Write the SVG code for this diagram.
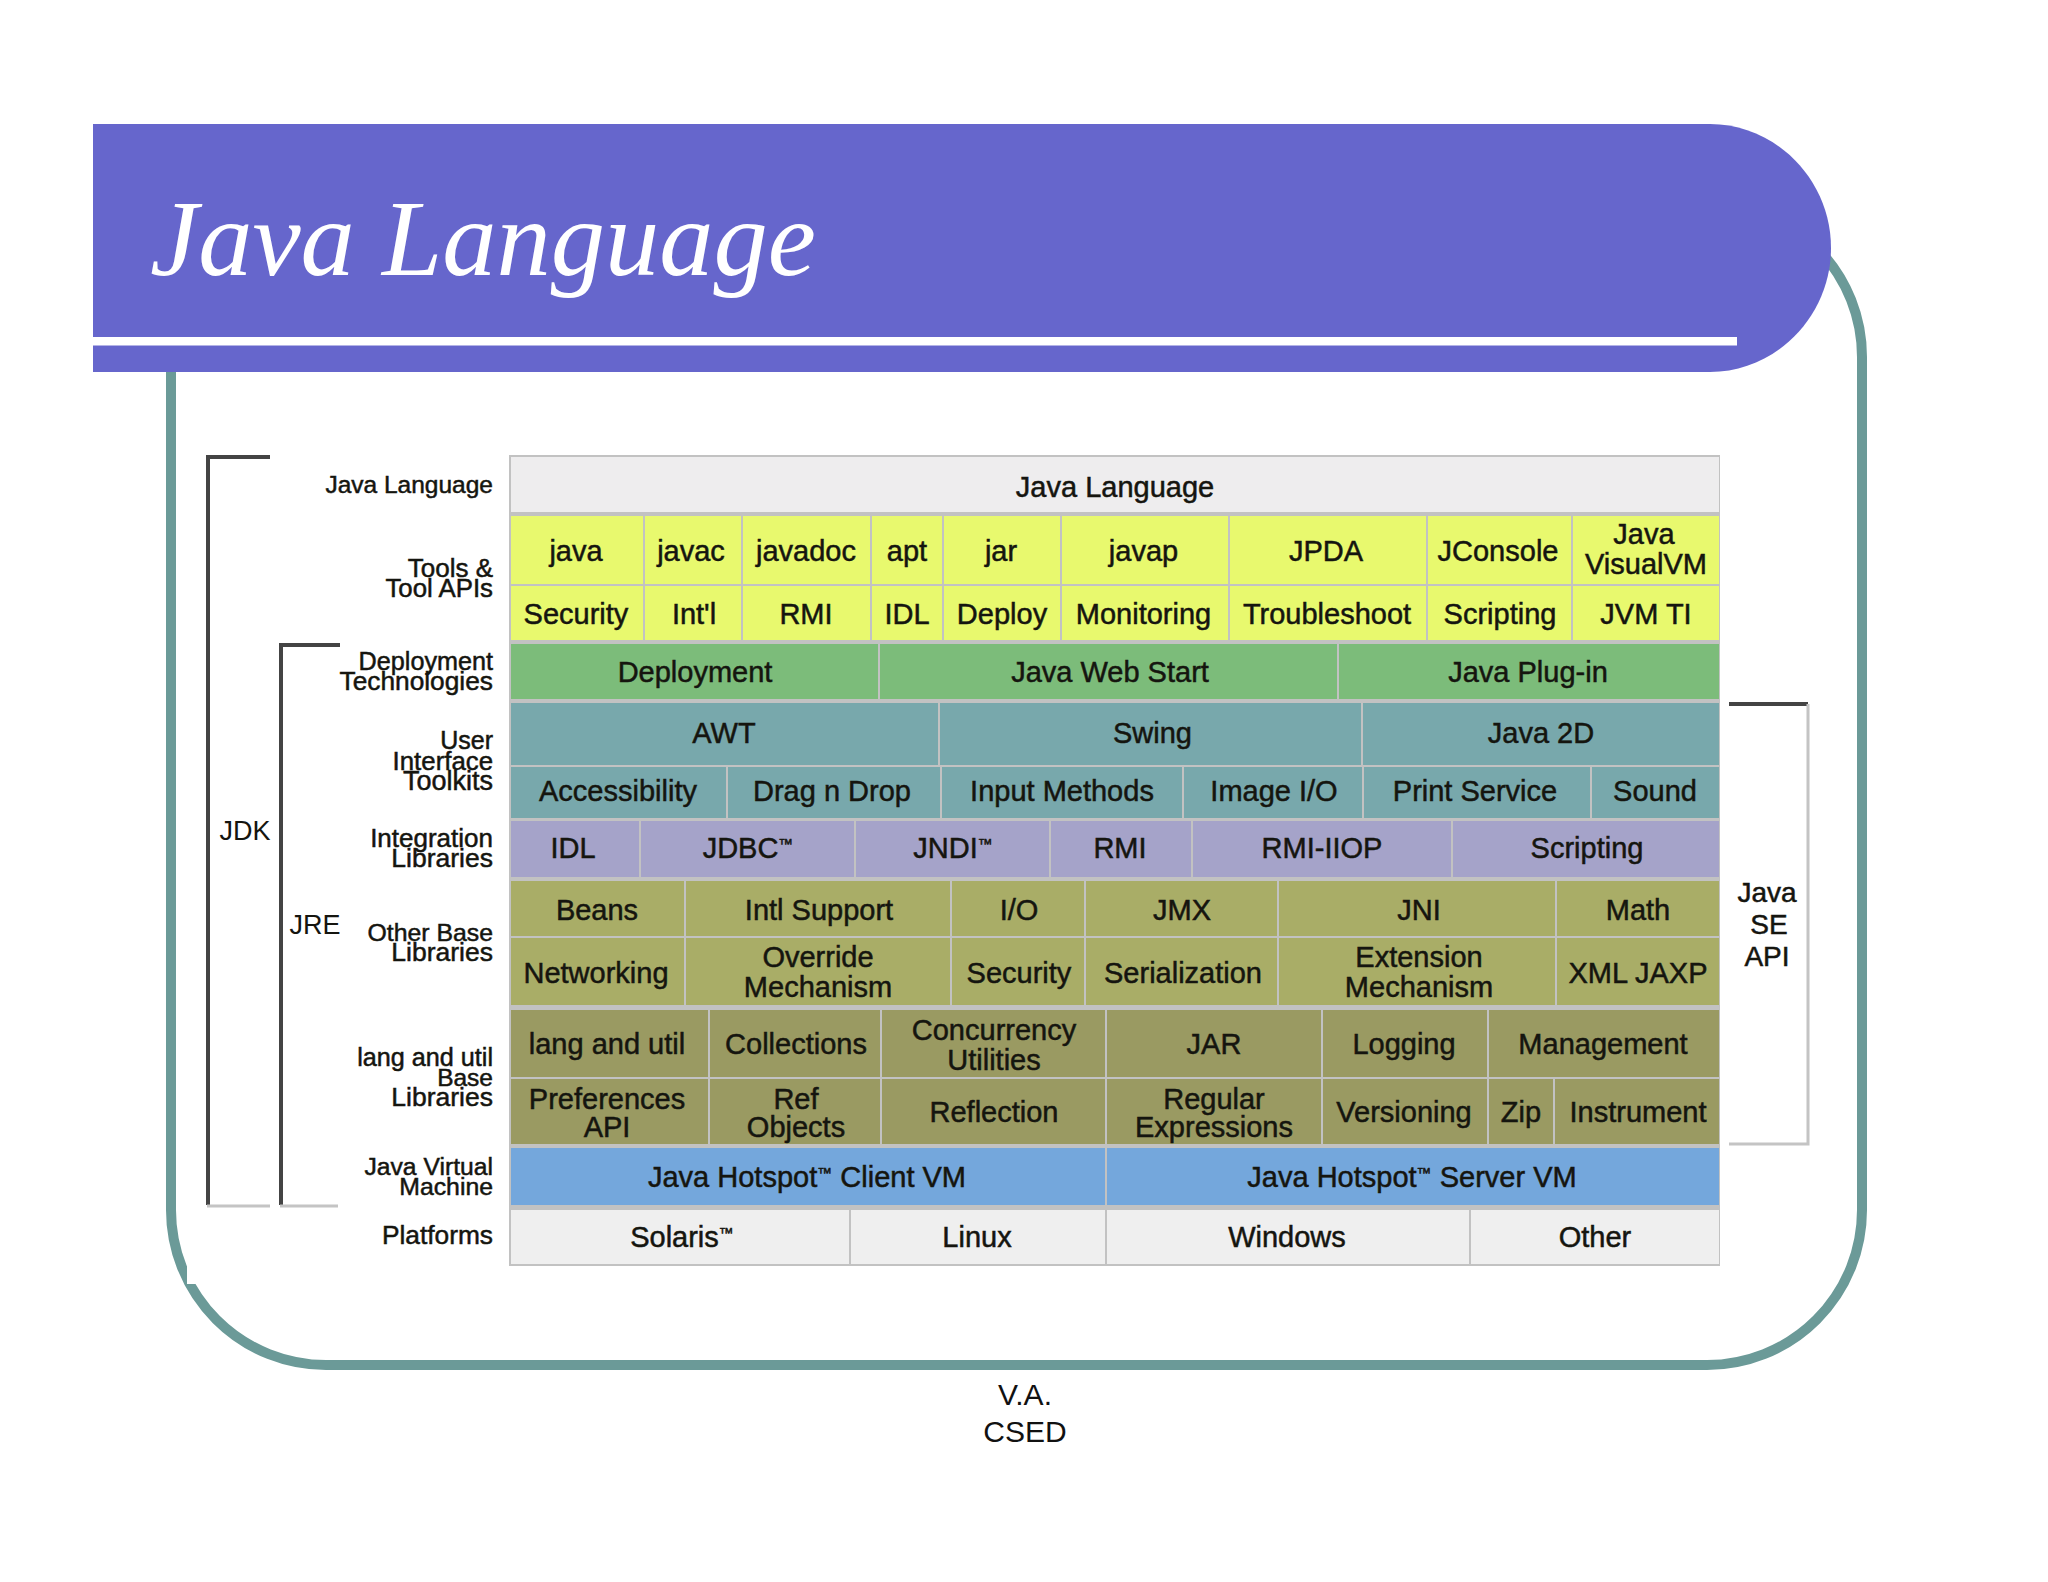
<svg xmlns="http://www.w3.org/2000/svg" width="2048" height="1582" viewBox="0 0 2048 1582">
<style>
text{font-family:"Liberation Sans",Arial,sans-serif;fill:#15150f}
.c{font-size:29px;text-anchor:middle;stroke:#15150f;stroke-width:.5px}
.l{text-anchor:end;stroke:#15150f;stroke-width:.5px}
.b{font-size:27px;text-anchor:middle}
.tm{font-size:15px}
.a{fill:#eeedee}.y{fill:#e8f96e}.g{fill:#7cbc7a}.t{fill:#78a8ac}.p{fill:#a5a3c9}.o{fill:#a9ad67}.d{fill:#9a9a62}.u{fill:#74a7dc}.w{fill:#efefef}
.dk{fill:none;stroke:#444;stroke-width:4}
.lt{fill:none;stroke:#c4c4c4;stroke-width:3}
</style>
<rect width="2048" height="1582" fill="#fff"/>
<g id="frame">
<rect x="171" y="202" width="1691" height="1163" rx="155" ry="155" fill="none" stroke="#6b9a98" stroke-width="10"/>
<rect x="187" y="380" width="1648" height="904" fill="#fff"/>
</g>
<g id="banner">
<path d="M93 124H1710C1776 124 1831 180 1831 248C1831 316 1776 372 1710 372H93Z" fill="#6666cc"/>
<rect x="93" y="337" width="1644" height="8.500" fill="#fff"/>
<text x="150" y="275" style="font-family:'Liberation Serif','Times New Roman',serif;font-style:italic;font-size:108.500px;fill:#fff">Java Language</text>
</g>
<rect id="table-bg" x="509" y="455" width="1211" height="811" fill="#c2c2c2"/>
<g id="connectors">
<path class="dk" d="M270 457H208V1205"/>
<path class="lt" d="M207 1206H270"/>
<path class="dk" d="M340 645H281V1205"/>
<path class="lt" d="M280 1206H338"/>
<path class="dk" d="M1729 704H1808"/>
<path class="lt" d="M1808 704V1144H1729"/>
</g>
<g id="side-labels">
<text class="l" x="493" y="493" font-size="24.500">Java Language</text>
<text class="l" x="493" y="577" font-size="26">Tools &amp;</text><text class="l" x="493" y="597" font-size="25.800">Tool APIs</text>
<text class="l" x="493" y="670" font-size="25.200">Deployment</text><text class="l" x="493" y="690" font-size="26.300">Technologies</text>
<text class="l" x="493" y="749" font-size="25">User</text><text class="l" x="493" y="770" font-size="25.800">Interface</text><text class="l" x="493" y="790" font-size="27">Toolkits</text>
<text class="l" x="493" y="847" font-size="26">Integration</text><text class="l" x="493" y="867" font-size="26.500">Libraries</text>
<text class="l" x="493" y="941" font-size="24.800">Other Base</text><text class="l" x="493" y="961" font-size="26.500">Libraries</text>
<text class="l" x="493" y="1066" font-size="25.200">lang and util</text><text class="l" x="493" y="1086" font-size="24.500">Base</text><text class="l" x="493" y="1106" font-size="26.500">Libraries</text>
<text class="l" x="493" y="1175" font-size="24.700">Java Virtual</text><text class="l" x="493" y="1195" font-size="24.800">Machine</text>
<text class="l" x="493" y="1244" font-size="26.300">Platforms</text>
<text class="b" x="245" y="840">JDK</text>
<text class="b" x="315" y="934">JRE</text>
<text class="c" x="1767" y="902" style="font-size:28px">Java</text>
<text class="c" x="1769" y="934" style="font-size:28px">SE</text>
<text class="c" x="1767" y="966" style="font-size:28px">API</text>
</g>
<g id="row-language"><g id="n-java-language"><rect class="a" x="511" y="457" width="1208" height="55"/><text class="c" x="1115" y="497">Java Language</text></g></g>
<g id="row-tools">
<g id="n-java"><rect class="y" x="511" y="516" width="132" height="68"/><text class="c" x="576" y="561">java</text></g>
<g id="n-javac"><rect class="y" x="645" y="516" width="96" height="68"/><text class="c" x="691" y="561">javac</text></g>
<g id="n-javadoc"><rect class="y" x="743" y="516" width="127" height="68"/><text class="c" x="806" y="561">javadoc</text></g>
<g id="n-apt"><rect class="y" x="872" y="516" width="70" height="68"/><text class="c" x="907" y="561">apt</text></g>
<g id="n-jar"><rect class="y" x="944" y="516" width="116" height="68"/><text class="c" x="1001" y="561">jar</text></g>
<g id="n-javap"><rect class="y" x="1062" y="516" width="166" height="68"/><text class="c" x="1143.500" y="561">javap</text></g>
<g id="n-jpda"><rect class="y" x="1230" y="516" width="196" height="68"/><text class="c" x="1326" y="561">JPDA</text></g>
<g id="n-jconsole"><rect class="y" x="1428" y="516" width="143" height="68"/><text class="c" x="1498" y="561">JConsole</text></g>
<g id="n-visualvm"><rect class="y" x="1573" y="516" width="146" height="68"/><text class="c" x="1644" y="544">Java</text><text class="c" x="1646" y="574">VisualVM</text></g>
<g id="n-security1"><rect class="y" x="511" y="586" width="132" height="54"/><text class="c" x="576" y="624">Security</text></g>
<g id="n-intl"><rect class="y" x="645" y="586" width="96" height="54"/><text class="c" x="694" y="624">Int'l</text></g>
<g id="n-rmi1"><rect class="y" x="743" y="586" width="127" height="54"/><text class="c" x="806" y="624">RMI</text></g>
<g id="n-idl1"><rect class="y" x="872" y="586" width="70" height="54"/><text class="c" x="907" y="624">IDL</text></g>
<g id="n-deploy"><rect class="y" x="944" y="586" width="116" height="54"/><text class="c" x="1002" y="624">Deploy</text></g>
<g id="n-monitoring"><rect class="y" x="1062" y="586" width="166" height="54"/><text class="c" x="1143.500" y="624">Monitoring</text></g>
<g id="n-troubleshoot"><rect class="y" x="1230" y="586" width="196" height="54"/><text class="c" x="1327" y="624">Troubleshoot</text></g>
<g id="n-scripting1"><rect class="y" x="1428" y="586" width="143" height="54"/><text class="c" x="1500" y="624">Scripting</text></g>
<g id="n-jvmti"><rect class="y" x="1573" y="586" width="146" height="54"/><text class="c" x="1646" y="624">JVM TI</text></g>
</g>
<g id="row-deployment">
<g id="n-deployment"><rect class="g" x="511" y="644" width="367" height="55"/><text class="c" x="695" y="682">Deployment</text></g>
<g id="n-webstart"><rect class="g" x="880" y="644" width="457" height="55"/><text class="c" x="1110" y="682">Java Web Start</text></g>
<g id="n-plugin"><rect class="g" x="1339" y="644" width="380" height="55"/><text class="c" x="1528" y="682">Java Plug-in</text></g>
</g>
<g id="row-ui">
<g id="n-awt"><rect class="t" x="511" y="703" width="427" height="62"/><text class="c" x="724" y="743">AWT</text></g>
<g id="n-swing"><rect class="t" x="940" y="703" width="421" height="62"/><text class="c" x="1152.500" y="743">Swing</text></g>
<g id="n-java2d"><rect class="t" x="1363" y="703" width="356" height="62"/><text class="c" x="1541" y="743">Java 2D</text></g>
<g id="n-accessibility"><rect class="t" x="511" y="767" width="215" height="51"/><text class="c" x="618" y="801">Accessibility</text></g>
<g id="n-dragdrop"><rect class="t" x="728" y="767" width="212" height="51"/><text class="c" x="832" y="801">Drag n Drop</text></g>
<g id="n-inputmethods"><rect class="t" x="942" y="767" width="240" height="51"/><text class="c" x="1062" y="801">Input Methods</text></g>
<g id="n-imageio"><rect class="t" x="1184" y="767" width="178" height="51"/><text class="c" x="1274" y="801">Image I/O</text></g>
<g id="n-printservice"><rect class="t" x="1364" y="767" width="226" height="51"/><text class="c" x="1475" y="801">Print Service</text></g>
<g id="n-sound"><rect class="t" x="1592" y="767" width="127" height="51"/><text class="c" x="1655" y="801">Sound</text></g>
</g>
<g id="row-integration">
<g id="n-idl2"><rect class="p" x="511" y="821" width="128" height="56"/><text class="c" x="573" y="858">IDL</text></g>
<g id="n-jdbc"><rect class="p" x="641" y="821" width="213" height="56"/><text class="c" x="748" y="858">JDBC<tspan class="tm" dy="-9">™</tspan></text></g>
<g id="n-jndi"><rect class="p" x="856" y="821" width="193" height="56"/><text class="c" x="953" y="858">JNDI<tspan class="tm" dy="-9">™</tspan></text></g>
<g id="n-rmi2"><rect class="p" x="1051" y="821" width="140" height="56"/><text class="c" x="1120" y="858">RMI</text></g>
<g id="n-rmiiiop"><rect class="p" x="1193" y="821" width="258" height="56"/><text class="c" x="1322" y="858">RMI-IIOP</text></g>
<g id="n-scripting2"><rect class="p" x="1453" y="821" width="266" height="56"/><text class="c" x="1587" y="858">Scripting</text></g>
</g>
<g id="row-other-base">
<g id="n-beans"><rect class="o" x="511" y="881" width="173" height="55"/><text class="c" x="597" y="920">Beans</text></g>
<g id="n-intlsupport"><rect class="o" x="686" y="881" width="264" height="55"/><text class="c" x="819" y="920">Intl Support</text></g>
<g id="n-io"><rect class="o" x="952" y="881" width="132" height="55"/><text class="c" x="1019" y="920">I/O</text></g>
<g id="n-jmx"><rect class="o" x="1086" y="881" width="191" height="55"/><text class="c" x="1182" y="920">JMX</text></g>
<g id="n-jni"><rect class="o" x="1279" y="881" width="276" height="55"/><text class="c" x="1419" y="920">JNI</text></g>
<g id="n-math"><rect class="o" x="1557" y="881" width="162" height="55"/><text class="c" x="1638" y="920">Math</text></g>
<g id="n-networking"><rect class="o" x="511" y="938" width="173" height="67"/><text class="c" x="596" y="983">Networking</text></g>
<g id="n-override"><rect class="o" x="686" y="938" width="264" height="67"/><text class="c" x="818" y="967">Override</text><text class="c" x="818" y="997">Mechanism</text></g>
<g id="n-security2"><rect class="o" x="952" y="938" width="132" height="67"/><text class="c" x="1019" y="983">Security</text></g>
<g id="n-serialization"><rect class="o" x="1086" y="938" width="191" height="67"/><text class="c" x="1183" y="983">Serialization</text></g>
<g id="n-extension"><rect class="o" x="1279" y="938" width="276" height="67"/><text class="c" x="1419" y="967">Extension</text><text class="c" x="1419" y="997">Mechanism</text></g>
<g id="n-xml"><rect class="o" x="1557" y="938" width="162" height="67"/><text class="c" x="1638" y="983">XML JAXP</text></g>
</g>
<g id="row-lang-util">
<g id="n-langutil"><rect class="d" x="511" y="1010" width="197" height="67"/><text class="c" x="607" y="1054">lang and util</text></g>
<g id="n-collections"><rect class="d" x="710" y="1010" width="170" height="67"/><text class="c" x="796" y="1054">Collections</text></g>
<g id="n-concurrency"><rect class="d" x="882" y="1010" width="223" height="67"/><text class="c" x="994" y="1040">Concurrency</text><text class="c" x="994" y="1070">Utilities</text></g>
<g id="n-jar2"><rect class="d" x="1107" y="1010" width="214" height="67"/><text class="c" x="1214" y="1054">JAR</text></g>
<g id="n-logging"><rect class="d" x="1323" y="1010" width="164" height="67"/><text class="c" x="1404" y="1054">Logging</text></g>
<g id="n-management"><rect class="d" x="1489" y="1010" width="230" height="67"/><text class="c" x="1603" y="1054">Management</text></g>
<g id="n-preferences"><rect class="d" x="511" y="1079" width="197" height="65"/><text class="c" x="607" y="1109">Preferences</text><text class="c" x="607" y="1137">API</text></g>
<g id="n-refobjects"><rect class="d" x="710" y="1079" width="170" height="65"/><text class="c" x="796" y="1109">Ref</text><text class="c" x="796" y="1137">Objects</text></g>
<g id="n-reflection"><rect class="d" x="882" y="1079" width="223" height="65"/><text class="c" x="994" y="1122">Reflection</text></g>
<g id="n-regex"><rect class="d" x="1107" y="1079" width="214" height="65"/><text class="c" x="1214" y="1109">Regular</text><text class="c" x="1214" y="1137">Expressions</text></g>
<g id="n-versioning"><rect class="d" x="1323" y="1079" width="164" height="65"/><text class="c" x="1404" y="1122">Versioning</text></g>
<g id="n-zip"><rect class="d" x="1489" y="1079" width="64" height="65"/><text class="c" x="1521" y="1122">Zip</text></g>
<g id="n-instrument"><rect class="d" x="1555" y="1079" width="164" height="65"/><text class="c" x="1638" y="1122">Instrument</text></g>
</g>
<g id="row-vm">
<g id="n-clientvm"><rect class="u" x="511" y="1148" width="594" height="57"/><text class="c" x="807" y="1187">Java Hotspot<tspan class="tm" dy="-9">™</tspan><tspan dy="9"> Client VM</tspan></text></g>
<g id="n-servervm"><rect class="u" x="1107" y="1148" width="612" height="57"/><text class="c" x="1412" y="1187">Java Hotspot<tspan class="tm" dy="-9">™</tspan><tspan dy="9"> Server VM</tspan></text></g>
</g>
<g id="row-platforms">
<g id="n-solaris"><rect class="w" x="511" y="1210" width="338" height="54"/><text class="c" x="682" y="1247">Solaris<tspan class="tm" dy="-9">™</tspan></text></g>
<g id="n-linux"><rect class="w" x="851" y="1210" width="254" height="54"/><text class="c" x="977" y="1247">Linux</text></g>
<g id="n-windows"><rect class="w" x="1107" y="1210" width="362" height="54"/><text class="c" x="1287" y="1247">Windows</text></g>
<g id="n-other"><rect class="w" x="1471" y="1210" width="248" height="54"/><text class="c" x="1595" y="1247">Other</text></g>
</g>
<g id="footer">
<text x="1025" y="1405" text-anchor="middle" style="font-size:30px;fill:#111">V.A.</text>
<text x="1025" y="1442" text-anchor="middle" style="font-size:30px;fill:#111">CSED</text>
</g>
</svg>
